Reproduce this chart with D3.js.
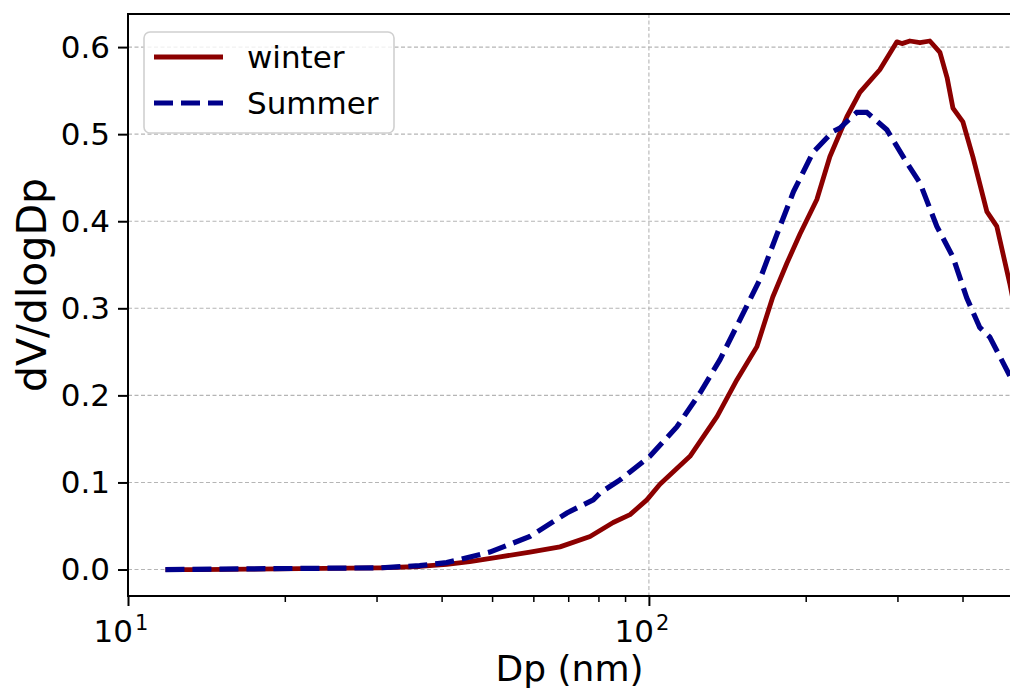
<!DOCTYPE html>
<html>
<head>
<meta charset="utf-8">
<script src="https://cdn.jsdelivr.net/npm/d3@7/dist/d3.min.js"></script>
<style>
  html, body { margin: 0; padding: 0; background: #fff; }
  svg { display: block; font-family: 'DejaVu Sans', sans-serif; }
</style>
</head>
<body>
<script>
'use strict'

const WINTER = '#8B0000'
const SUMMER = '#00008B'
const GRID   = '#b5b5b5'

// size distribution (Dp in nm, dV/dlogDp)
const winterDp = [11.8, 13.7, 17.1, 21.4, 26.7, 30.5, 36.3, 40.9, 45.3, 51.1, 59.1, 67.5, 77.1, 85.4, 92.0,
  99.1, 105, 119.9, 135.2, 147.6, 161.2, 172.9, 184.1, 194.9, 210.1, 222.5, 239.9, 254.1, 277.5,
  299.3, 306, 317.0, 331.4, 346.2, 362.0, 373.6, 383.4, 400.7, 418.8, 445.5, 465.5, 493.5, 500]
const winterDv = [0, 0, 0.0005, 0.001, 0.0015, 0.002, 0.0035, 0.006, 0.009, 0.014, 0.020, 0.026, 0.038, 0.054, 0.063,
  0.080, 0.098, 0.130, 0.176, 0.218, 0.256, 0.313, 0.352, 0.385, 0.425, 0.474, 0.520, 0.548, 0.574,
  0.606, 0.604, 0.607, 0.605, 0.607, 0.594, 0.565, 0.530, 0.514, 0.474, 0.411, 0.394, 0.327, 0.31]

const summerDp = [11.8, 30.5, 36.3, 40.9, 49.5, 59.1, 69.6, 78.2, 80.6, 88.0, 100.4, 113.2, 125.4, 136.9, 149.6,
  163.3, 176.1, 189.5, 206.5, 225.4, 232.6, 250.7, 262.0, 286.3, 312.8, 331.4, 357.1, 383.4,
  407.5, 431.7, 451.2, 493.5, 500]
const summerDv = [0, 0.002, 0.0045, 0.008, 0.020, 0.038, 0.065, 0.080, 0.088, 0.103, 0.130, 0.164, 0.203, 0.241, 0.287,
  0.333, 0.385, 0.434, 0.479, 0.503, 0.507, 0.525, 0.525, 0.505, 0.467, 0.444, 0.394, 0.359,
  0.312, 0.278, 0.267, 0.222, 0.215]

const yTicks = [0, 0.1, 0.2, 0.3, 0.4, 0.5, 0.6]
const yTickLabels = ['0.0', '0.1', '0.2', '0.3', '0.4', '0.5', '0.6']
const xMajorTicks = [10, 100]
const xMajorExp = ['1', '2']
const xMinorTicks = [20, 30, 40, 50, 60, 70, 80, 90, 200, 300, 400]
const seriesNames = ['winter', 'Summer']

const W = 1010, H = 693
const plotLeft = 128, plotTop = 14, plotBottom = 596
const plotRight = 1013

const svg = d3.select('body')
  .append('svg')
  .attr('width', W)
  .attr('height', H)

const x = d3.scaleLog().domain([10, 500]).range([plotLeft, plotRight])
const y = d3.scaleLinear().domain([-0.0304, 0.638]).range([plotBottom, plotTop])

svg.append('clipPath')
  .attr('id', 'plot-clip')
  .append('rect')
  .attr('x', plotLeft).attr('y', plotTop)
  .attr('width', plotRight - plotLeft).attr('height', plotBottom - plotTop)

// grid
const grid = svg.append('g')
grid.selectAll('line.gy')
  .data(yTicks)
  .join('line')
  .attr('class', 'gy')
  .attr('x1', plotLeft).attr('x2', plotRight)
  .attr('y1', d => y(d)).attr('y2', d => y(d))
  .attr('stroke', GRID)
  .attr('stroke-width', 1.1)
  .attr('stroke-dasharray', '4,2.5')
grid.selectAll('line.gx')
  .data(xMajorTicks)
  .join('line')
  .attr('class', 'gx')
  .attr('x1', d => x(d)).attr('x2', d => x(d))
  .attr('y1', plotTop).attr('y2', plotBottom)
  .attr('stroke', GRID)
  .attr('stroke-width', 1.1)
  .attr('stroke-dasharray', '4,2.5')

// curves
const line = d3.line()
  .x(d => x(d[0]))
  .y(d => y(d[1]))

const plot = svg.append('g').attr('clip-path', 'url(#plot-clip)')

plot.append('path')
  .datum(d3.zip(winterDp, winterDv))
  .attr('d', line)
  .attr('fill', 'none')
  .attr('stroke', WINTER)
  .attr('stroke-width', 4.8)
  .attr('stroke-linejoin', 'round')

plot.append('path')
  .datum(d3.zip(summerDp, summerDv))
  .attr('d', line)
  .attr('fill', 'none')
  .attr('stroke', SUMMER)
  .attr('stroke-width', 5.2)
  .attr('stroke-dasharray', '19,8')

// axes
const yAxis = d3.axisLeft(y)
  .tickValues(yTicks)
  .tickFormat((d, i) => yTickLabels[i])
  .tickSize(10)
  .tickPadding(8)
const gy = svg.append('g')
  .attr('transform', `translate(${ plotLeft },0)`)
  .call(yAxis)
gy.select('.domain').remove()
gy.selectAll('.tick line').attr('stroke', '#000').attr('stroke-width', 2)
gy.selectAll('.tick text')
  .attr('font-size', 31)
  .attr('font-family', 'DejaVu Sans')
  .attr('fill', '#000')

const xAxis = d3.axisBottom(x)
  .tickValues(xMajorTicks)
  .tickFormat('')
  .tickSize(10)
const gx = svg.append('g')
  .attr('transform', `translate(0,${ plotBottom })`)
  .call(xAxis)
gx.select('.domain').remove()
gx.selectAll('.tick line').attr('stroke', '#000').attr('stroke-width', 2)

const xMinor = d3.axisBottom(x)
  .tickValues(xMinorTicks)
  .tickFormat('')
  .tickSize(6)
const gxm = svg.append('g')
  .attr('transform', `translate(0,${ plotBottom })`)
  .call(xMinor)
gxm.select('.domain').remove()
gxm.selectAll('.tick line').attr('stroke', '#000').attr('stroke-width', 1.5)

// 10^n labels
const xl = svg.append('g')
  .selectAll('text')
  .data(xMajorTicks)
  .join('text')
  .attr('x', d => x(d) - 7)
  .attr('y', 642)
  .attr('text-anchor', 'middle')
  .attr('font-size', 31)
  .attr('fill', '#000')
xl.append('tspan').text('10')
xl.append('tspan')
  .attr('dy', -12)
  .attr('dx', 2)
  .attr('font-size', 21)
  .text((d, i) => xMajorExp[i])

// spines (right one sits just past the canvas)
const spines = svg.append('g')
  .attr('fill', 'none')
  .attr('stroke', '#000')
  .attr('stroke-width', 2)
spines.append('line').attr('x1', plotLeft).attr('x2', plotLeft).attr('y1', plotTop - 1).attr('y2', plotBottom + 1)
spines.append('line').attr('x1', plotLeft).attr('x2', plotRight).attr('y1', plotBottom).attr('y2', plotBottom)
spines.append('line').attr('x1', plotLeft).attr('x2', plotRight).attr('y1', plotTop).attr('y2', plotTop)
spines.append('line').attr('x1', plotRight).attr('x2', plotRight).attr('y1', plotTop).attr('y2', plotBottom)

// axis titles
svg.append('text')
  .attr('x', (plotLeft + plotRight) / 2 - 1)
  .attr('y', 681)
  .attr('text-anchor', 'middle')
  .attr('font-size', 36)
  .attr('fill', '#000')
  .text('Dp (nm)')

svg.append('text')
  .attr('transform', `translate(46,285) rotate(-90)`)
  .attr('text-anchor', 'middle')
  .attr('font-size', 41)
  .attr('fill', '#000')
  .text('dV/dlogDp')

// legend
const legend = svg.append('g')
legend.append('rect')
  .attr('x', 144).attr('y', 32)
  .attr('width', 250).attr('height', 101)
  .attr('rx', 6)
  .attr('fill', '#fff')
  .attr('fill-opacity', 0.8)
  .attr('stroke', '#d0d0d0')
  .attr('stroke-width', 1.6)

const legendRows = legend.selectAll('g.row')
  .data(seriesNames)
  .join('g')
  .attr('class', 'row')
  .attr('transform', (d, i) => `translate(0,${ 57 + i * 46 })`)

legendRows.append('line')
  .attr('x1', 154).attr('x2', 223)
  .attr('stroke', (d, i) => i === 0 ? WINTER : SUMMER)
  .attr('stroke-width', (d, i) => i === 0 ? 4.8 : 5.2)
  .attr('stroke-dasharray', (d, i) => i === 0 ? null : '19,8')

legendRows.append('text')
  .attr('x', 247)
  .attr('dy', '0.36em')
  .attr('font-size', 31)
  .attr('fill', '#000')
  .text(d => d)
</script>
</body>
</html>
